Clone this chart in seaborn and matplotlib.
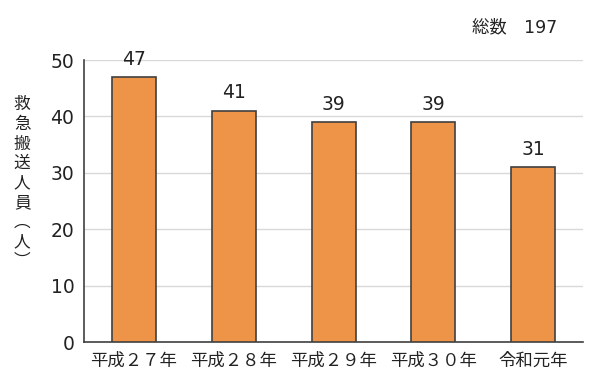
import matplotlib
matplotlib.use("Agg")
import matplotlib.pyplot as plt
import seaborn as sns
import pandas as pd

categories = ["平成２７年", "平成２８年", "平成２９年", "平成３０年", "令和元年"]
values = [47, 41, 39, 39, 31]
total_label = "総数　197"
ylabel_chars = ["救", "急", "搬", "送", "人", "員", "︵", "人", "︶"]

sns.set_theme(style="white")
plt.rcParams['font.family'] = ['Noto Sans CJK JP', 'DejaVu Sans']
num_font = ['DejaVu Sans', 'Noto Sans CJK JP']

df = pd.DataFrame({"year": categories, "count": values})

fig = plt.figure(figsize=(6, 3.9), dpi=100)
ax = fig.add_axes([0.14, 0.123, 0.832, 0.723])

sns.barplot(data=df, x="year", y="count", ax=ax, color="#ED9448",
            saturation=1, width=0.44, edgecolor="#404040", linewidth=1.2, zorder=3)

ax.set_ylim(0, 50)
ax.set_yticks([0, 10, 20, 30, 40, 50])
ax.set_xlim(-0.5, 4.5)
ax.yaxis.grid(True, color="#d9d9d9", linewidth=1, zorder=0)
ax.set_axisbelow(True)
for s in ["top", "right"]:
    ax.spines[s].set_visible(False)
ax.spines["left"].set_color("#404040")
ax.spines["bottom"].set_color("#404040")
ax.spines["left"].set_linewidth(1.2)
ax.spines["bottom"].set_linewidth(1.2)
ax.tick_params(axis="y", labelsize=13.5, length=0, pad=7, colors="#222222")
ax.tick_params(axis="x", labelsize=12.5, length=0, pad=7, colors="#222222")
for lab in ax.get_yticklabels():
    lab.set_family(num_font)
ax.set_xlabel("")
ax.set_ylabel("")

for i, v in enumerate(values):
    ax.text(i, v + 1.5, str(v), ha="center", va="bottom", fontsize=13.5,
            color="#222222", family=num_font)

fig.text(0.037, 0.53, "\n".join(ylabel_chars), ha="center", va="center",
         fontsize=12, linespacing=1.2, color="#222222")
fig.text(0.928, 0.93, total_label, ha="right", va="center", fontsize=12.5,
         color="#222222", family=num_font)

fig.savefig("out.png", dpi=100)
